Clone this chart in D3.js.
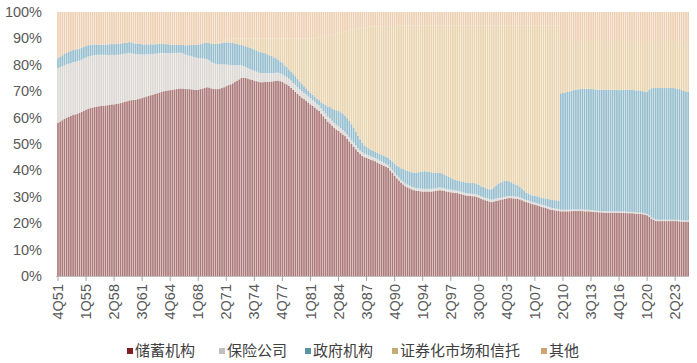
<!DOCTYPE html>
<html>
<head>
<meta charset="utf-8">
<script src="https://cdn.jsdelivr.net/npm/d3@7/dist/d3.min.js"></script>
<style>
  body { margin: 0; background: #fff; }
  text { font-family: "Liberation Sans", Arial, sans-serif; }
  .legend text { font-family: "Noto Sans CJK SC", sans-serif; }
</style>
</head>
<body>
<svg id="chart" width="697" height="363"></svg>
<script>
// share of mortgage holdings by holder, quarterly 4Q51 .. 4Q24 (%)
var seriesNames = ["储蓄机构", "保险公司", "政府机构", "证券化市场和信托", "其他"];

var savings = [58,
  58.5,59,59.5,60, 60.3,60.6,61,61.2, 61.5,61.8,62.2,62.6, 63,63.3,63.6,63.8, 64,64.2,64.3,64.4, 64.5,64.6,64.7,64.8, 65,65,65.2,65.3, 65.5,65.8,66,66.2,
  66.5,66.6,66.7,66.8, 67,67.2,67.4,67.7, 68,68.2,68.5,68.7, 69,69.2,69.5,69.8, 70,70.1,70.3,70.4, 70.5,70.7,70.8,71, 71,71,70.9,70.8, 70.8,70.7,70.6,70.5, 70.5,70.8,71,71.3, 71.5,71.4,71.1,70.9,
  70.8,70.8,71,71.2, 71.5,71.9,72.3,72.6, 73,73.5,74,74.5, 75,75.1,75,74.8, 74.5,74.3,74,73.8, 73.5,73.4,73.4,73.5, 73.5,73.6,73.7,73.8, 74,74,73.8,73.5, 73,72.6,72,71.3, 70.5,69.8,69,68.3,
  67.5,67,66.4,65.7, 65,64.4,63.8,63.1, 62.5,61.5,60.5,59.5, 58.5,57.8,57,56.2, 55.5,55,54.3,53.6, 53,52,51,50, 49,48,47,46.2, 45.5,45,44.7,44.4, 44,43.8,43.5,43, 42.5,42.2,41.8,41.4,
  41,40,39,38, 37,36.2,35.4,34.7, 34,33.6,33.2,32.8, 32.5,32.3,32.2,32.1, 32,32,32,32, 32,32.1,32.2,32.4, 32.5,32.4,32.2,32, 31.8,31.7,31.6,31.5, 31.4,31.2,31,30.7, 30.5,30.4,30.3,30.2,
  30.2,30,29.7,29.3, 29,28.7,28.5,28.2, 28,28.2,28.4,28.6, 28.8,29,29.2,29.4, 29.5,29.5,29.4,29.3, 29.2,29,28.7,28.3, 28,27.8,27.5,27.2, 27,26.8,26.5,26.2, 26,25.8,25.5,25.2, 25,24.9,24.8,24.6,
  24.5,24.5,24.5,24.5, 24.5,24.6,24.6,24.6, 24.6,24.6,24.6,24.5, 24.5,24.5,24.4,24.3, 24.2,24.2,24.1,24.1, 24,24,24,24, 24,24,24,23.9, 23.9,23.9,23.9,23.8, 23.8,23.8,23.7,23.6, 23.5,23.5,23.4,23.2,
  23,22.5,21.8,21.2, 20.9,20.8,20.8,20.8, 20.8,20.8,20.8,20.8, 20.8,20.8,20.8,20.7, 20.6,20.6,20.5,20.5];

var insurance = [20.7,
  20.5,20.4,20.3,20.2, 20.1,20,20,19.9, 19.9,19.8,19.8,19.8, 19.8,19.8,19.7,19.7, 19.7,19.6,19.5,19.4, 19.3,19.2,19,18.9, 18.8,18.7,18.6,18.5, 18.4,18.3,18.2,18.1,
  18,17.8,17.5,17.2, 17,16.8,16.5,16.2, 16,15.8,15.6,15.4, 15.2,15,14.9,14.7, 14.5,14.3,14.2,14, 13.9,13.8,13.7,13.6, 13.5,13.3,13,12.8, 12.6,12.5,12.3,12.2, 12,11.7,11.4,11, 10.6,10.3,10,9.8,
  9.6,9.4,9.2,9, 8.6,8.2,7.7,7.2, 6.8,6.3,5.8,5.3, 4.8,4.4,4.2,4, 3.9,3.8,3.7,3.6, 3.5,3.5,3.4,3.4, 3.3,3.2,3.2,3.1, 3,3,2.9,2.9, 2.8,2.8,2.7,2.7, 2.6,2.6,2.5,2.5,
  2.5,2.4,2.4,2.3, 2.3,2.2,2.2,2.1, 2.1,2,2,2, 1.9,1.9,1.8,1.8, 1.8,1.7,1.7,1.7, 1.6,1.6,1.6,1.5, 1.5,1.5,1.4,1.4, 1.4,1.3,1.3,1.3, 1.3,1.2,1.2,1.2, 1.2,1.2,1.1,1.1,
  1.1,1.1,1.1,1.1, 1.1,1.1,1,1, 1,1,1,1, 1,1,1,1, 1,1,1,1, 1,1,1,1, 1,1,1,1, 1,1,1,1, 0.9,0.9,0.9,0.9, 0.9,0.9,0.9,0.9,
  0.9,0.9,0.9,0.9, 0.9,0.9,0.9,0.9, 0.9,0.9,0.9,0.9, 0.8,0.8,0.8,0.8, 0.8,0.8,0.8,0.8, 0.8,0.8,0.8,0.8, 0.8,0.8,0.8,0.8, 0.8,0.8,0.8,0.8, 0.8,0.8,0.8,0.8, 0.7,0.7,0.7,0.7,
  0.6,0.6,0.6,0.6, 0.6,0.6,0.6,0.6, 0.6,0.6,0.6,0.6, 0.6,0.6,0.6,0.6, 0.5,0.5,0.5,0.5, 0.5,0.5,0.5,0.5, 0.5,0.5,0.5,0.5, 0.5,0.5,0.5,0.5, 0.5,0.5,0.5,0.5, 0.5,0.5,0.5,0.5,
  0.5,0.5,0.5,0.5, 0.5,0.5,0.5,0.5, 0.5,0.5,0.5,0.5, 0.5,0.5,0.5,0.5, 0.5,0.5,0.5,0.5];

var government = [3.8,
  4,4.2,4.3,4.4, 4.5,4.6,4.6,4.5, 4.5,4.5,4.5,4.5, 4.4,4.3,4.2,4.1, 4,3.9,3.9,3.8, 3.8,3.9,4,4.1, 4.1,4.1,4.1,4.1, 4.1,4.1,4.1,4.1,
  4.1,4.1,4,4, 4,3.9,3.9,3.8, 3.8,3.7,3.7,3.6, 3.6,3.6,3.5,3.5, 3.5,3.4,3.3,3.2, 3.1,3,3,3, 3,3.2,3.5,3.8, 4.1,4.3,4.6,4.8, 5,5.3,5.7,6, 6.3,6.6,6.9,7.2,
  7.5,7.7,7.9,8.1, 8.3,8.4,8.5,8.5, 8.5,8.3,8.1,7.9, 7.8,7.8,7.8,7.9, 8,8.1,8.1,8.1, 8,7.9,7.7,7.5, 7.2,6.8,6.4,5.9, 5.5,5,4.6,4.3, 4,3.8,3.6,3.5, 3.4,3.3,3.1,2.9,
  2.7,2.5,2.3,2.2, 2.1,2,2,2, 2,2.3,2.8,3.3, 3.8,4.3,4.7,5.1, 5.5,5.8,6,6.1, 6.2,6.2,6.1,6, 5.6,5.2,4.7,4.2, 3.6,3.2,2.9,2.7, 2.5,2.4,2.4,2.4, 2.5,2.6,2.7,2.7,
  2.7,3,3.3,3.5, 3.6,4,4.4,4.8, 5.1,5.3,5.4,5.5, 5.6,5.8,6.1,6.4, 6.6,6.7,6.5,6.4, 6.3,6.1,5.9,5.7, 5.6,5.5,5.3,5, 4.7,4.4,4.1,4, 3.9,3.9,3.9,4, 4,4.1,4.1,4.1,
  4.1,4,3.9,3.8, 3.8,3.8,3.7,3.7, 4,4.5,5,5.5, 5.8,6,6.1,6, 5.6,5.2,4.9,4.6, 4.4,4,3.6,3.2, 2.8,2.6,2.5,2.5, 2.5,2.6,2.6,2.7, 2.7,2.8,2.9,3, 3.1,3.1,3.2,3.2,
  44.1,44.2,44.4,44.6, 44.8,45,45.2,45.4, 45.5,45.6,45.7,45.8, 45.8,45.8,45.8,45.9, 45.9,45.9,46,46, 46,46,46,46, 46,46,46,46, 46.1,46.1,46.1,46.2, 46.2,46.2,46.2,46.2, 46.3,46.2,46.1,46,
  46.3,47.5,48.8,49.5, 49.8,49.9,49.9,49.9, 49.9,49.9,49.9,49.9, 49.9,49.8,49.7,49.6, 49.3,49,48.8,48.7];

var securitized = [0,
  0,0,0,0, 0,0,0,0, 0,0,0,0, 0,0,0,0, 0,0,0,0, 0,0,0,0, 0,0,0,0, 0,0,0,0,
  0,0,0,0, 0,0,0,0, 0,0,0,0, 0,0,0,0, 0,0,0,0, 0,0,0,0, 0,0,0,0, 0,0,0,0, 0,0,0,0, 0,0,0,0,
  0.3,0.5,0.6,0.7, 0.8,1,1.2,1.5, 1.6,1.9,2.1,2.3, 2.4,2.7,3,3.3, 3.6,3.8,4.2,4.5, 5,5.2,5.5,5.6, 6,6.4,6.7,7.2, 7.5,8,8.7,9.3, 10.2,10.8,11.7,12.5, 13.5,14.3,15.4,16.3,
  17.3,18.1,18.9,19.8, 20.6,21.4,22.2,23, 23.8,24.7,25.3,26, 26.8,27.2,27.9,28.5, 29,29.5,30.2,31, 31.8,33,34.3,35.7, 37.3,38.9,40.7,42.2, 43.6,44.7,45.4,46, 46.7,47.1,47.4,47.9, 48.4,48.6,49,49.4,
  49.9,50.6,51.3,52.1, 53.1,53.5,54,54.3, 54.8,55,55.3,55.6, 55.9,55.9,55.7,55.5, 55.4,55.3,55.5,55.6, 55.7,55.8,55.9,55.9, 55.9,56.1,56.5,57, 57.5,57.9,58.3,58.5, 58.8,59,59.2,59.4, 59.6,59.6,59.7,59.8,
  59.8,60.1,60.5,61, 61.3,61.6,61.9,62.2, 62.1,61.4,60.7,60, 59.6,59.2,58.9,58.8, 59.1,59.5,59.9,60.3, 60.6,61.2,61.9,62.7, 63.4,63.8,64.2,64.5, 64.7,64.8,65.1,65.3, 65.5,65.6,65.8,66, 66.2,66.3,66.3,66.5,
  19.8,19.7,19.5,19.3, 19.1,18.8,18.6,18.4, 18.3,18.2,18.1,18.1, 18.1,18.1,18.2,18.2, 18.4,18.4,18.4,18.4, 18.5,18.5,18.5,18.5, 18.5,18.5,18.5,18.6, 18.5,18.5,18.5,18.5, 18.5,18.5,18.6,18.7, 18.7,18.8,19,19.3,
  19.2,18.5,17.9,17.8, 17.8,17.8,17.8,17.8, 17.8,17.8,17.8,17.8, 17.8,17.9,18,18.2, 18.6,18.9,19.2,19.3];

var others = [17.5,
  17,16.4,15.9,15.4, 15.1,14.8,14.4,14.4, 14.1,13.9,13.5,13.1, 12.8,12.6,12.5,12.4, 12.3,12.3,12.3,12.4, 12.4,12.3,12.3,12.2, 12.1,12.2,12.1,12.1, 12,11.8,11.7,11.6,
  11.4,11.5,11.8,12, 12,12.1,12.2,12.3, 12.2,12.3,12.2,12.3, 12.2,12.2,12.1,12, 12,12.2,12.2,12.4, 12.5,12.5,12.5,12.4, 12.5,12.5,12.6,12.6, 12.5,12.5,12.5,12.5, 12.5,12.2,11.9,11.7, 11.6,11.7,12,12.1,
  11.8,11.6,11.3,11, 10.8,10.5,10.3,10.2, 10.1,10,10,10, 10,10,10,10, 10,10,10,10, 10,10,10,10, 10,10,10,10, 10,10,10,10, 10,10,10,10, 10,10,10,10,
  10,10,10,10, 10,10,9.8,9.8, 9.6,9.5,9.4,9.2, 9,8.8,8.6,8.4, 8.2,8,7.8,7.6, 7.4,7.2,7,6.8, 6.6,6.4,6.2,6, 5.9,5.8,5.7,5.6, 5.5,5.5,5.5,5.5, 5.4,5.4,5.4,5.4,
  5.3,5.3,5.3,5.3, 5.2,5.2,5.2,5.2, 5.1,5.1,5.1,5.1, 5,5,5,5, 5,5,5,5, 5,5,5,5, 5,5,5,5, 5,5,5,5, 5,5,5,5, 5,5,5,5,
  5,5,5,5, 5,5,5,5, 5,5,5,5, 5,5,5,5, 5,5,5,5, 5,5,5,5, 5,5,5,5, 5,5,5,5, 5,5,5,5, 5,5,5,5,
  11,11,11,11, 11,11,11,11, 11,11,11,11, 11,11,11,11, 11,11,11,11, 11,11,11,11, 11,11,11,11, 11,11,11,11, 11,11,11,11, 11,11,11,11,
  11,11,11,11, 11,11,11,11, 11,11,11,11, 11,11,11,11, 11,11,11,11];

var tickLabels = ["4Q51","1Q55","2Q58","3Q61","4Q64","1Q68","2Q71","3Q74","4Q77","1Q81","2Q84",
  "3Q87","4Q90","1Q94","2Q97","3Q00","4Q03","1Q07","2Q10","3Q13","4Q16","1Q20","2Q23"];
var yTicks = [0, 0.1, 0.2, 0.3, 0.4, 0.5, 0.6, 0.7, 0.8, 0.9, 1];

// bar colours (washed, as printed) and legend swatch colours
var barColors = ["#ad7a7a", "#dcd9d5", "#96bece", "#e9d4b0", "#edd0b3"];
var keyColors = ["#7d2020", "#bfbfbf", "#5b93a6", "#c3ad74", "#cfa56f"];

// quarter names 4Q51 .. 4Q24
var quarters = [];
var yr = 1951, qn = 4;
for (var i = 0; i < savings.length; i++) {
    quarters.push(qn + "Q" + String(yr % 100).padStart(2, "0"));
    qn++;
    if (qn > 4) { qn = 1; yr++; }
}

var keys = ["s0", "s1", "s2", "s3", "s4"];
var rows = quarters.map(function (name, i) {
    return { name: name, s0: savings[i], s1: insurance[i], s2: government[i], s3: securitized[i], s4: others[i] };
});

var svg = d3.select("#chart");
var plotLeft = 56.9, plotRight = 689.2, plotTop = 12, plotBottom = 276;

var x = d3.scaleBand().domain(quarters).range([plotLeft, plotRight]).paddingInner(0.22).paddingOuter(0.11);
var y = d3.scaleLinear().domain([0, 1]).range([plotBottom, plotTop]);

var stacked = d3.stack().keys(keys).offset(d3.stackOffsetExpand)(rows);

svg.append("g").selectAll("g")
    .data(stacked)
    .join("g")
    .attr("fill", function (d, i) { return barColors[i]; })
    .selectAll("rect")
    .data(function (d) { return d; })
    .join("rect")
    .attr("x", function (d) { return x(d.data.name); })
    .attr("width", x.bandwidth())
    .attr("y", function (d) { return y(d[1]); })
    .attr("height", function (d) { return y(d[0]) - y(d[1]); });

// y labels, no axis line
svg.append("g").selectAll("text")
    .data(yTicks)
    .join("text")
    .attr("x", 42)
    .attr("y", function (d) { return y(d); })
    .attr("dy", "0.35em")
    .attr("text-anchor", "end")
    .attr("font-size", 14.5)
    .attr("fill", "#595959")
    .text(d3.format(".0%"));

// x axis
var xAxis = d3.axisBottom(x).tickValues(tickLabels).tickSize(5).tickPadding(4);
var gx = svg.append("g").attr("transform", "translate(0," + plotBottom + ")").call(xAxis);
gx.select(".domain").attr("d", "M" + (plotLeft - 1) + ",0.5H" + plotRight).attr("stroke", "#bfbfbf");
gx.selectAll(".tick line").attr("stroke", "#a6a6a6");
gx.selectAll(".tick text")
    .attr("transform", "rotate(-90)")
    .attr("text-anchor", "end")
    .attr("x", -8)
    .attr("y", 0)
    .attr("dy", "0.35em")
    .attr("font-size", 14.5)
    .attr("font-family", "Liberation Sans, Arial, sans-serif")
    .attr("fill", "#595959");

// legend
var legendX = [127, 219, 305, 392, 541];
var lg = svg.append("g").attr("class", "legend").selectAll("g")
    .data(seriesNames)
    .join("g")
    .attr("transform", function (d, i) { return "translate(" + legendX[i] + ",351)"; });
lg.append("rect").attr("x", 0).attr("y", -3).attr("width", 6).attr("height", 6)
    .attr("fill", function (d, i) { return keyColors[i]; });
lg.append("text").attr("x", 8).attr("y", 0).attr("dy", "0.36em")
    .attr("font-size", 15).attr("fill", "#404040")
    .text(function (d) { return d; });
</script>
</body>
</html>
